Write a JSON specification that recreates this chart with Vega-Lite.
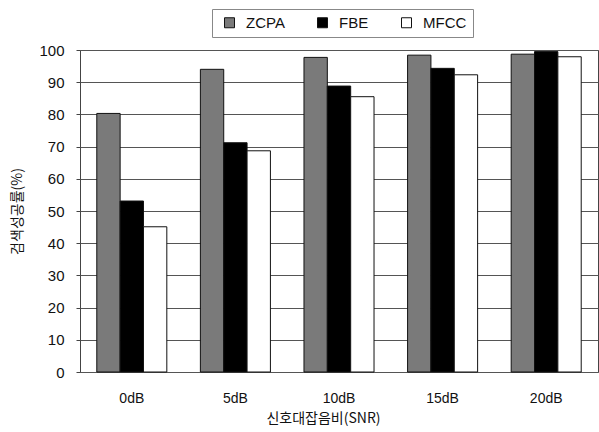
{
  "$schema": "https://vega.github.io/schema/vega-lite/v6.json",
  "width": 518,
  "height": 322,
  "autosize": {"type": "none"},
  "padding": {"left": 80, "top": 50, "right": 1, "bottom": 60},
  "background": "white",
  "config": {
    "font": "Liberation Sans",
    "view": {"stroke": "#444", "strokeWidth": 1},
    "axis": {"labelFont": "Liberation Sans", "titleFont": "Noto Sans CJK KR", "labelColor": "#111", "titleColor": "#111"}
  },
  "data": {
    "values": [
      {"snr": "0dB", "method": "ZCPA", "rate": 80.3},
      {"snr": "0dB", "method": "FBE", "rate": 53.1},
      {"snr": "0dB", "method": "MFCC", "rate": 45.1},
      {"snr": "5dB", "method": "ZCPA", "rate": 94.0},
      {"snr": "5dB", "method": "FBE", "rate": 71.2},
      {"snr": "5dB", "method": "MFCC", "rate": 68.7},
      {"snr": "10dB", "method": "ZCPA", "rate": 97.7},
      {"snr": "10dB", "method": "FBE", "rate": 88.8},
      {"snr": "10dB", "method": "MFCC", "rate": 85.5},
      {"snr": "15dB", "method": "ZCPA", "rate": 98.4},
      {"snr": "15dB", "method": "FBE", "rate": 94.3},
      {"snr": "15dB", "method": "MFCC", "rate": 92.3},
      {"snr": "20dB", "method": "ZCPA", "rate": 98.7},
      {"snr": "20dB", "method": "FBE", "rate": 99.5},
      {"snr": "20dB", "method": "MFCC", "rate": 97.9}
    ]
  },
  "mark": {"type": "bar", "stroke": "#111", "strokeWidth": 1},
  "encoding": {
    "x": {
      "field": "snr", "type": "nominal", "sort": ["0dB", "5dB", "10dB", "15dB", "20dB"],
      "scale": {"paddingInner": 0.324, "paddingOuter": 0.162},
      "axis": {"labelAngle": 0, "ticks": false, "domain": false, "labelPadding": 19, "labelFontSize": 14,
               "title": "신호대잡음비(SNR)", "titleFontSize": 14, "titleFontWeight": "normal", "titlePadding": 6, "titleX": 243}
    },
    "xOffset": {"field": "method", "type": "nominal", "sort": ["ZCPA", "FBE", "MFCC"]},
    "y": {
      "field": "rate", "type": "quantitative",
      "scale": {"domain": [0, 100], "nice": false},
      "axis": {"values": [0,10,20,30,40,50,60,70,80,90,100], "labelFontSize": 15, "labelPadding": 12, "tickSize": 4, "tickColor": "#444", "domain": false,
               "gridColor": "#555", "gridWidth": 1, "gridOpacity": 1,
               "title": "검색성공률(%)", "titleFontSize": 14, "titleFontWeight": "normal", "titlePadding": 14}
    },
    "color": {
      "field": "method", "type": "nominal",
      "scale": {"domain": ["ZCPA", "FBE", "MFCC"], "range": ["#7a7a7a", "#000000", "#ffffff"]},
      "legend": {
        "title": null, "orient": "none", "direction": "horizontal", "legendX": 132, "legendY": -41,
        "symbolType": "square", "symbolSize": 100, "symbolStrokeColor": "#111", "symbolStrokeWidth": 1,
        "labelFontSize": 15, "labelColor": "#111", "columnPadding": 26, "symbolOffset": 4,
        "strokeColor": "#888", "padding": 6, "labelOffset": 9
      }
    }
  }
}
